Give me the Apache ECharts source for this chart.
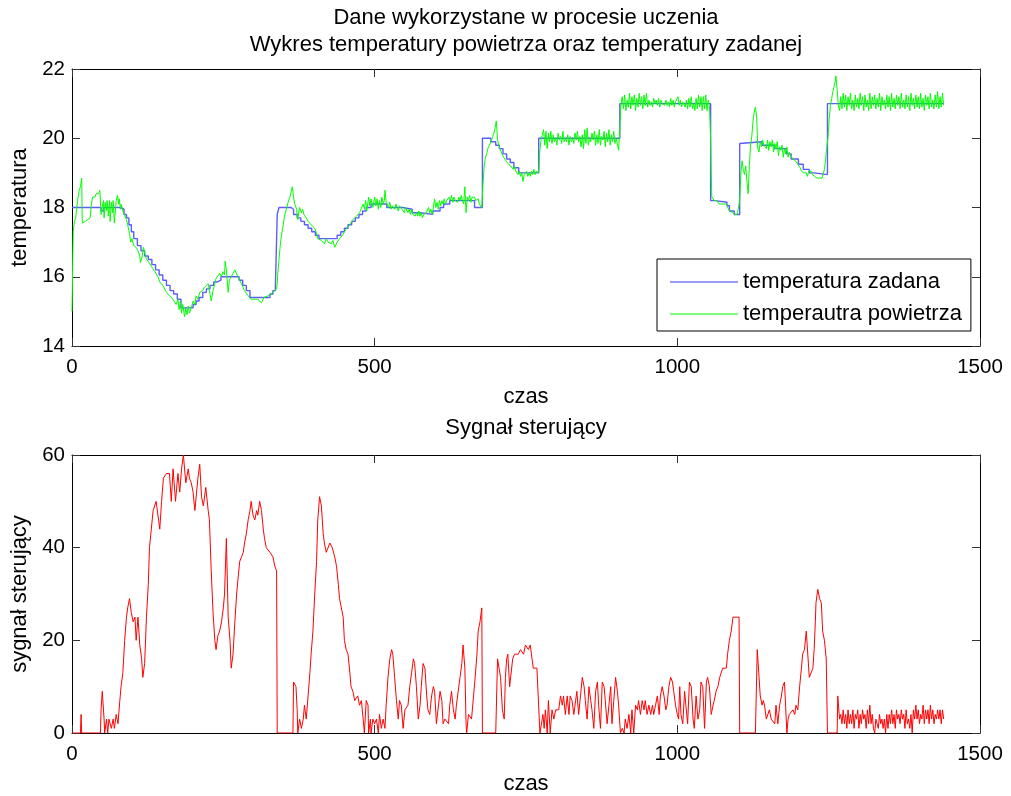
<!DOCTYPE html>
<html>
<head>
<meta charset="utf-8">
<script src="https://cdn.jsdelivr.net/npm/echarts@6/dist/echarts.min.js"></script>
<style>
  html, body { margin: 0; padding: 0; background: #ffffff; }
  #chart { width: 1011px; height: 796px; }
</style>
</head>
<body>
<div id="chart"></div>
<script>
// Setpoint temperature: [time, value], each value holds until the next time
const setpointData = [
  [0,18.0],[48,17.9],[52,18.0],[80,17.95],[86,17.8],[90,17.7],[94,17.5],[98,17.3],[102,17.1],[108,16.9],
  [114,16.75],[120,16.6],[126,16.5],[132,16.35],[138,16.2],[144,16.05],[150,15.9],[156,15.75],[162,15.6],
  [168,15.5],[174,15.35],[180,15.1],[200,15.2],[205,15.3],[210,15.4],[216,15.55],[222,15.65],[228,15.75],
  [234,15.85],[240,15.9],[246,16.0],[276,15.9],[282,15.75],[288,15.6],[294,15.4],[327,15.5],[332,15.6],
  [336,15.7],[339,17.8],[342,18.0],[362,17.95],[366,17.8],[372,17.7],[378,17.6],[384,17.5],[390,17.4],
  [396,17.3],[402,17.2],[408,17.1],[438,17.2],[444,17.3],[450,17.4],[456,17.5],[462,17.6],[468,17.7],
  [474,17.8],[480,17.9],[486,18.0],[494,18.1],[520,18.0],[546,17.95],[562,17.85],[575,17.8],[596,17.9],
  [608,18.0],[614,18.1],[624,18.2],[665,18.0],[678,20.0],[692,19.9],[700,19.8],[706,19.7],[712,19.55],
  [718,19.4],[724,19.3],[730,19.15],[738,19.0],[771,20.0],[905,21.0],[1055,18.2],[1062,18.15],[1082,18.05],
  [1086,17.9],[1094,17.8],[1103,19.85],[1106,19.9],[1140,19.8],[1160,19.7],[1180,19.55],[1188,19.4],
  [1200,19.25],[1208,19.1],[1218,19.0],[1226,18.95],[1248,21.0],[1440,21.0]
];

// Measured air temperature: [time, value]
const airTempData = [
  [0,15.0],[1,16.2],[2,17.3],[4,17.6],[6,17.7],[8,18.0],[10,18.3],[12,18.5],[14,18.6],[16,18.85],[17,17.55],
  [19,17.6],[22,17.6],[26,17.65],[30,17.7],[32,18.1],[34,18.3],[36,18.35],[38,18.3],[40,18.4],[42,18.35],
  [44,18.4],[46,18.5],[48,17.8],[50,17.85],[52,18.2],[53,17.7],[55,18.15],[57,17.9],[58,18.2],[60,17.75],
  [62,18.2],[63,17.6],[65,18.15],[67,17.85],[68,18.2],[70,17.55],[72,18.0],[73,18.2],[75,18.35],[77,18.1],
  [78,18.25],[80,17.95],[81,18.1],[84,17.9],[87,17.85],[90,17.65],[92,17.5],[95,17.25],[97,17.0],[99,17.1],
  [102,16.9],[104,16.95],[106,16.85],[109,16.75],[112,16.6],[113,16.4],[116,16.6],[118,16.85],[121,16.85],
  [123,16.5],[126,16.45],[128,16.4],[131,16.3],[134,16.3],[137,16.15],[139,16.1],[142,16.0],[145,15.85],
  [148,15.85],[150,15.75],[153,15.7],[156,15.55],[159,15.55],[161,15.45],[164,15.5],[167,15.35],[170,15.4],
  [172,15.2],[175,15.35],[177,15.05],[179,15.3],[181,14.95],[183,15.2],[186,14.85],[188,15.1],[190,14.9],
  [192,15.15],[194,14.95],[197,15.1],[200,15.3],[203,15.2],[205,15.45],[208,15.35],[211,15.55],[214,15.5],
  [216,15.6],[219,15.7],[222,15.7],[225,15.8],[227,15.6],[230,15.3],[233,15.6],[236,15.8],[238,15.95],
  [241,15.9],[244,16.1],[247,16.0],[249,16.15],[252,16.05],[253,16.45],[255,16.2],[258,15.55],[260,15.9],
  [263,16.0],[266,16.1],[269,16.2],[271,16.15],[274,16.0],[277,15.95],[280,15.8],[282,15.75],[285,15.6],
  [288,15.55],[291,15.45],[293,15.4],[296,15.35],[299,15.4],[302,15.35],[305,15.4],[307,15.35],[310,15.4],
  [313,15.25],[314,15.2],[317,15.4],[320,15.4],[324,15.45],[328,15.5],[332,15.55],[335,15.6],[338,15.65],
  [339,15.8],[340,16.1],[342,16.5],[344,16.9],[346,17.2],[349,17.5],[351,17.75],[354,17.95],[357,18.15],
  [360,18.3],[362,18.45],[364,18.6],[366,18.3],[368,18.1],[371,17.95],[373,17.65],[375,17.9],[376,18.0],
  [379,17.85],[381,17.95],[383,17.8],[385,17.85],[387,17.7],[390,17.6],[393,17.65],[395,17.5],[398,17.45],
  [401,17.4],[404,17.25],[406,17.1],[409,17.15],[412,17.05],[415,17.1],[417,16.95],[420,17.1],[423,17.0],
  [426,17.05],[428,16.95],[431,17.05],[434,16.85],[436,16.8],[438,17.0],[440,16.95],[442,17.1],[445,17.15],
  [447,17.2],[450,17.3],[453,17.35],[456,17.45],[459,17.5],[461,17.55],[464,17.65],[467,17.7],[470,17.75],
  [472,17.8],[475,17.85],[478,17.9],[481,18.1],[483,17.95],[485,18.2],[487,17.9],[490,18.3],[492,18.05],
  [494,18.25],[497,18.0],[500,18.3],[502,18.05],[504,18.25],[506,17.95],[508,18.2],[510,18.0],[512,18.3],
  [514,18.1],[516,18.2],[517,18.5],[519,18.15],[521,18.1],[523,18.0],[525,18.15],[527,17.95],[529,18.05],
  [531,18.0],[533,17.95],[535,18.1],[537,18.0],[539,17.9],[541,18.05],[543,18.0],[545,17.95],[547,18.0],
  [549,17.85],[551,18.0],[553,17.95],[555,17.85],[557,17.95],[559,17.8],[561,17.95],[563,17.8],[565,17.85],
  [567,17.75],[569,17.85],[571,17.75],[573,17.9],[575,17.75],[577,17.85],[579,17.7],[581,17.8],[583,17.75],
  [585,17.85],[587,17.8],[589,18.0],[591,17.85],[593,17.95],[595,17.8],[597,18.0],[599,18.25],[601,18.0],
  [603,18.15],[605,17.95],[607,18.2],[609,18.05],[611,18.2],[613,18.1],[615,18.25],[617,18.1],[619,18.2],
  [621,18.15],[623,18.3],[625,18.2],[627,18.35],[629,18.15],[631,18.3],[633,18.2],[635,18.25],[637,18.15],
  [639,18.3],[641,18.2],[643,18.35],[645,18.2],[647,18.1],[649,18.6],[651,17.85],[653,18.3],[655,18.2],
  [657,18.35],[659,18.15],[661,18.3],[663,18.25],[665,18.3],[667,18.2],[669,18.15],[671,18.25],[673,18.1],
  [675,18.05],[677,18.0],[679,18.7],[681,19.2],[683,19.45],[685,19.55],[687,19.7],[689,19.75],[691,19.85],
  [693,19.95],[695,20.05],[697,20.15],[699,20.3],[701,20.5],[703,19.95],[705,19.8],[707,19.75],[709,19.6],
  [711,19.55],[713,19.45],[715,19.5],[717,19.35],[719,19.4],[721,19.25],[723,19.3],[725,19.2],[727,19.25],
  [729,19.1],[731,19.2],[733,19.05],[735,19.1],[737,18.95],[739,19.05],[741,18.9],[743,19.0],[745,18.75],
  [747,18.95],[749,18.9],[751,19.05],[753,18.9],[755,19.0],[757,18.9],[759,19.05],[761,18.95],[763,19.1],
  [765,18.95],[767,19.05],[769,19.0],[771,19.0],[773,19.7],[775,19.95],[777,20.1],[779,20.25],[781,19.8],
  [783,20.2],[785,19.7],[787,20.15],[789,19.9],[791,20.2],[793,19.85],[795,20.1],[797,19.9],[799,20.0],
  [801,19.8],[803,20.15],[805,19.95],[807,20.05],[809,19.85],[811,20.2],[813,19.9],[815,20.0],[817,19.9],
  [819,20.1],[821,19.8],[823,20.05],[825,19.9],[827,20.0],[829,19.85],[831,20.15],[833,19.95],[835,20.2],
  [837,19.9],[839,20.05],[841,19.75],[843,20.1],[845,19.7],[847,20.25],[849,19.85],[851,20.3],[853,19.8],
  [855,20.0],[857,19.9],[859,20.15],[861,19.95],[863,20.2],[865,19.8],[867,20.1],[869,19.85],[871,20.25],
  [873,19.8],[875,20.05],[877,19.95],[879,20.2],[881,19.75],[883,20.15],[885,19.9],[887,20.25],[889,19.8],
  [891,20.1],[893,19.9],[895,20.2],[897,19.85],[899,20.0],[901,19.95],[903,19.65],[905,20.3],[907,21.0],
  [909,21.2],[911,20.85],[913,21.25],[915,20.8],[917,21.1],[919,20.9],[921,21.3],[923,20.85],[925,21.2],
  [927,20.95],[929,21.25],[931,20.8],[933,21.15],[935,20.9],[937,21.3],[939,20.95],[941,21.2],[943,20.85],
  [945,21.25],[947,20.95],[949,21.3],[951,20.9],[953,21.1],[955,20.95],[957,21.05],[959,20.9],[961,21.15],
  [963,21.0],[965,21.1],[967,20.95],[969,21.15],[971,20.9],[973,21.1],[975,21.0],[977,21.05],[979,20.95],
  [981,21.1],[983,20.95],[985,21.05],[987,20.9],[989,21.15],[991,20.95],[993,21.1],[995,20.9],[997,21.05],
  [999,21.0],[1001,21.2],[1003,20.95],[1005,21.1],[1007,20.9],[1009,21.05],[1011,21.0],[1013,20.9],
  [1015,21.1],[1017,20.85],[1019,21.15],[1021,20.9],[1023,21.2],[1025,20.85],[1027,21.0],[1029,20.8],
  [1031,21.15],[1033,20.85],[1035,21.25],[1037,20.9],[1039,21.2],[1041,20.8],[1043,21.2],[1045,20.85],
  [1047,21.25],[1049,20.8],[1051,21.1],[1053,20.95],[1055,20.0],[1056,19.0],[1057,18.3],[1059,18.25],
  [1061,18.2],[1063,18.15],[1065,18.2],[1067,18.15],[1069,18.1],[1071,18.15],[1073,18.1],[1075,18.15],
  [1077,18.1],[1079,18.05],[1081,18.1],[1083,18.0],[1085,17.95],[1087,17.9],[1089,17.95],[1091,17.85],
  [1093,17.8],[1095,17.8],[1097,17.8],[1099,17.8],[1101,17.85],[1103,18.2],[1105,19.0],[1107,19.35],
  [1109,19.1],[1111,18.95],[1113,19.2],[1115,18.75],[1117,18.4],[1119,19.2],[1121,19.8],[1123,20.05],
  [1125,20.5],[1127,20.75],[1129,20.9],[1131,20.6],[1133,19.7],[1135,19.6],[1137,19.9],[1139,19.75],
  [1141,19.95],[1143,19.8],[1145,19.85],[1147,19.7],[1149,19.95],[1151,19.65],[1153,19.9],[1155,19.75],
  [1157,19.95],[1159,19.6],[1161,19.85],[1163,19.7],[1165,19.9],[1167,19.5],[1169,19.75],[1171,19.65],
  [1173,19.8],[1175,19.45],[1177,19.7],[1179,19.55],[1181,19.75],[1183,19.45],[1185,19.6],[1187,19.5],
  [1189,19.55],[1191,19.4],[1193,19.45],[1195,19.35],[1197,19.3],[1199,19.25],[1201,19.2],[1203,19.15],
  [1205,19.05],[1207,19.1],[1209,19.0],[1211,19.05],[1213,19.0],[1215,18.9],[1217,19.05],[1219,19.1],
  [1221,19.05],[1223,18.95],[1225,19.0],[1227,18.9],[1229,18.9],[1231,18.85],[1233,18.85],[1235,18.85],
  [1237,18.85],[1239,18.85],[1241,18.9],[1243,19.1],[1245,19.4],[1247,19.75],[1249,20.05],[1251,20.6],
  [1253,20.95],[1255,21.15],[1257,21.35],[1259,21.5],[1261,21.65],[1262,21.8],[1264,21.4],[1266,20.95],
  [1268,20.8],[1270,21.2],[1272,20.85],[1274,21.3],[1276,20.9],[1278,21.25],[1280,20.8],[1282,21.2],
  [1284,20.95],[1286,21.3],[1288,20.85],[1290,21.1],[1292,20.8],[1294,21.25],[1296,20.9],[1298,21.15],
  [1300,20.85],[1302,21.3],[1304,20.95],[1306,21.2],[1308,20.8],[1310,21.25],[1312,20.9],[1314,21.1],
  [1316,20.8],[1318,21.3],[1320,20.85],[1322,21.2],[1324,20.95],[1326,21.25],[1328,20.85],[1330,21.15],
  [1332,20.9],[1334,21.3],[1336,20.8],[1338,21.2],[1340,20.95],[1342,21.1],[1344,20.85],[1346,21.25],
  [1348,20.9],[1350,21.2],[1352,20.8],[1354,21.3],[1356,20.9],[1358,21.15],[1360,20.85],[1362,21.25],
  [1364,20.95],[1366,21.2],[1368,20.85],[1370,21.3],[1372,20.9],[1374,21.1],[1376,20.85],[1378,21.25],
  [1380,20.9],[1382,21.2],[1384,20.8],[1386,21.3],[1388,20.95],[1390,21.15],[1392,20.85],[1394,21.25],
  [1396,20.9],[1398,21.2],[1400,20.85],[1402,21.3],[1404,20.9],[1406,21.15],[1408,20.8],[1410,21.25],
  [1412,20.95],[1414,21.2],[1416,20.85],[1418,21.3],[1420,20.9],[1422,21.1],[1424,20.85],[1426,21.25],
  [1428,20.9],[1430,21.35],[1432,20.85],[1434,21.2],[1436,20.9],[1438,21.3],[1440,20.95]
];

// Control signal: [time, value]
const controlData = [
  [0,0],[14,0],[15,4],[16,0],[47,0],[48,5],[50,9],[53,3],[54,0],[57,3],[59,0],[61,3],[65,1],[68,3],[70,1],
  [73,4],[76,2],[79,7],[81,10],[84,13],[87,20],[90,25],[92,27],[95,29],[98,26],[101,24],[104,25],[106,20],
  [109,25],[112,19],[115,16],[117,12],[120,15],[123,25],[126,32],[128,40],[131,44],[134,48],[139,50],
  [145,44],[148,50],[151,55],[156,56],[161,56],[164,50],[167,57],[171,50],[175,56],[178,52],[181,57],
  [184,60],[188,54],[192,57],[194,55],[197,54],[200,52],[203,48],[205,48],[208,55],[211,58],[214,51],
  [217,49],[221,53],[225,48],[227,46],[230,35],[233,26],[236,20],[238,18],[241,21],[244,22],[247,24],
  [250,27],[252,30],[255,42],[258,25],[261,20],[263,14],[266,17],[269,24],[272,30],[274,33],[277,37],
  [280,38],[283,39],[285,41],[288,43],[291,46],[294,48],[296,50],[299,47],[302,46],[305,48],[307,47],
  [310,50],[313,48],[316,44],[318,42],[321,40],[324,40],[327,39],[332,38],[335,36],[338,35],[339,0],
  [365,0],[366,11],[370,10],[372,5],[373,0],[376,3],[379,1],[382,3],[384,6],[387,3],[390,8],[393,13],
  [395,17],[398,22],[401,30],[404,37],[406,46],[409,51],[412,49],[415,43],[417,41],[420,39],[426,41],
  [430,40],[434,38],[437,36],[440,32],[442,29],[445,27],[448,25],[450,20],[453,18],[456,17],[459,13],
  [461,10],[464,9],[467,7],[470,7],[472,8],[475,6],[478,7],[481,3],[483,0],[486,7],[489,6],[490,0],
  [493,3],[494,0],[497,3],[500,2],[503,3],[506,0],[508,4],[511,1],[514,3],[517,1],[519,6],[522,12],
  [525,16],[528,18],[530,17],[533,12],[536,7],[539,3],[541,7],[544,6],[547,1],[550,5],[553,5],[555,6],
  [558,10],[561,13],[564,16],[566,15],[569,10],[572,3],[575,6],[577,10],[580,15],[583,14],[586,8],[588,5],
  [591,4],[594,8],[597,10],[599,9],[602,2],[605,2],[608,9],[611,7],[613,2],[616,3],[619,3],[622,2],[624,6],
  [627,9],[630,5],[633,3],[635,6],[638,6],[641,12],[644,15],[646,19],[649,14],[651,2],[652,0],[655,4],
  [658,4],[660,3],[663,3],[666,12],[669,17],[671,22],[674,24],[677,27],[678,0],[700,0],[703,16],[706,16],
  [708,12],[711,5],[714,3],[716,12],[718,16],[720,17],[723,10],[725,10],[728,16],[731,17],[734,17],
  [737,17],[739,17],[741,18],[743,18],[746,17],[749,19],[751,19],[754,18],[757,19],[760,16],[762,14],
  [765,14],[768,14],[771,14],[773,0],[776,0],[778,4],[780,1],[782,5],[785,0],[787,7],[790,0],[793,5],
  [796,3],[799,5],[801,5],[804,5],[807,8],[810,6],[812,8],[815,4],[818,8],[821,4],[823,8],[826,7],[829,4],
  [832,7],[834,9],[837,4],[840,8],[843,12],[846,10],[848,7],[851,3],[854,10],[857,7],[859,5],[862,1],
  [865,9],[868,11],[870,6],[873,1],[876,11],[879,10],[881,7],[884,2],[887,6],[890,10],[892,2],[895,7],
  [898,12],[901,9],[903,6],[906,0],[907,0],[909,1],[912,0],[914,3],[917,1],[920,4],[923,0],[925,5],
  [928,0],[931,6],[934,5],[936,7],[939,4],[942,7],[945,5],[947,7],[950,4],[953,6],[956,4],[959,6],[961,4],
  [964,6],[967,8],[970,4],[972,8],[975,10],[978,8],[981,5],[983,6],[986,10],[989,12],[992,11],[994,9],
  [997,6],[1000,4],[1002,3],[1004,10],[1006,4],[1009,2],[1012,9],[1015,9],[1017,2],[1020,11],[1023,10],
  [1026,3],[1028,1],[1031,8],[1034,3],[1037,5],[1039,11],[1042,10],[1045,1],[1048,11],[1050,12],[1053,10],
  [1056,4],[1059,6],[1061,7],[1064,9],[1067,10],[1070,12],[1072,12],[1075,14],[1078,14],[1081,14],
  [1083,17],[1086,20],[1089,22],[1092,25],[1095,25],[1097,25],[1100,25],[1102,25],[1103,0],[1129,0],
  [1132,18],[1135,12],[1137,8],[1140,6],[1142,7],[1144,6],[1147,3],[1150,3],[1152,5],[1155,3],[1158,3],
  [1161,2],[1163,6],[1166,2],[1169,6],[1172,8],[1174,10],[1177,11],[1180,11],[1181,0],[1183,3],[1185,4],
  [1188,4],[1191,5],[1194,4],[1196,6],[1199,5],[1202,10],[1205,14],[1207,17],[1210,18],[1213,22],
  [1216,16],[1218,12],[1221,12],[1224,14],[1226,18],[1228,24],[1229,28],[1232,31],[1235,29],[1238,28],
  [1240,22],[1243,20],[1246,16],[1248,0],[1264,0],[1265,8],[1268,3],[1270,4],[1272,2],[1274,5],[1276,2],
  [1278,4],[1280,1],[1282,5],[1284,2],[1286,4],[1288,2],[1290,5],[1292,1],[1294,4],[1296,3],[1298,5],
  [1300,1],[1302,4],[1304,2],[1306,5],[1308,3],[1310,4],[1312,1],[1314,5],[1316,2],[1318,6],[1320,2],
  [1322,4],[1324,1],[1326,0],[1328,3],[1330,3],[1332,1],[1334,4],[1336,2],[1338,3],[1340,1],[1342,3],
  [1344,0],[1346,4],[1348,1],[1350,4],[1352,2],[1354,5],[1356,2],[1358,4],[1360,1],[1362,5],[1364,3],
  [1366,4],[1368,2],[1370,5],[1372,3],[1374,4],[1376,1],[1378,5],[1380,2],[1382,3],[1384,1],[1386,4],
  [1388,0],[1390,5],[1392,3],[1394,6],[1396,3],[1398,5],[1400,2],[1402,4],[1404,3],[1406,6],[1408,2],
  [1410,5],[1412,3],[1414,5],[1416,2],[1418,6],[1420,3],[1422,5],[1424,2],[1426,4],[1428,3],[1430,5],
  [1432,3],[1434,5],[1436,2],[1438,5],[1440,3]
];

const FONT = '"Liberation Sans", Arial, Helvetica, sans-serif';
const textBase = { fontFamily: FONT, fontSize: 22, color: '#000', fontWeight: 'normal' };
const tickText = { fontFamily: FONT, fontSize: 20.5, color: '#000' };
const plainNumber = v => String(v);

// Box-style axis: line plus inward ticks; labels only on the main side
function boxAxis(extra) {
  return Object.assign({
    type: 'value',
    axisLine: { show: true, onZero: false, lineStyle: { color: '#000', width: 1 } },
    axisTick: { show: true, inside: true, length: 8, lineStyle: { color: '#333', width: 1 } },
    axisLabel: { show: false },
    splitLine: { show: false }
  }, extra);
}

const xMain = { min: 0, max: 1500, interval: 500 };
const xLabel = { show: true, margin: 11, formatter: plainNumber, ...tickText };
const yLabel = { show: true, margin: 7, formatter: plainNumber, ...tickText };

const option = {
  animation: false,
  backgroundColor: '#ffffff',
  title: [
    {
      text: 'Dane wykorzystane w procesie uczenia\nWykres temperatury powietrza oraz temperatury zadanej',
      left: 526, top: 4, textAlign: 'center', padding: 0,
      textStyle: { ...textBase, lineHeight: 27 }
    },
    {
      text: 'Sygnał sterujący',
      left: 526, top: 417, textAlign: 'center', padding: 0,
      textStyle: { ...textBase }
    }
  ],
  legend: {
    data: ['temperatura zadana', 'temperautra powietrza'],
    orient: 'vertical',
    left: 657, top: 259,
    padding: [12, 9, 6, 13],
    itemGap: 10, itemWidth: 68, itemHeight: 1.4,
    icon: 'rect',
    backgroundColor: '#fff', borderColor: '#000', borderWidth: 1,
    textStyle: { ...textBase }
  },
  grid: [
    { left: 72, top: 69, width: 908, height: 277, containLabel: false },
    { left: 72, top: 455, width: 908, height: 278, containLabel: false }
  ],
  xAxis: [
    boxAxis({ gridIndex: 0, position: 'bottom', ...xMain, axisLabel: xLabel,
      name: 'czas', nameLocation: 'middle', nameGap: 40, nameTextStyle: textBase }),
    boxAxis({ gridIndex: 0, position: 'top', ...xMain }),
    boxAxis({ gridIndex: 1, position: 'bottom', ...xMain, axisLabel: xLabel,
      name: 'czas', nameLocation: 'middle', nameGap: 40, nameTextStyle: textBase }),
    boxAxis({ gridIndex: 1, position: 'top', ...xMain })
  ],
  yAxis: [
    boxAxis({ gridIndex: 0, position: 'left', min: 14, max: 22, interval: 2, axisLabel: yLabel,
      name: 'temperatura', nameLocation: 'middle', nameGap: 31, nameTextStyle: textBase }),
    boxAxis({ gridIndex: 0, position: 'right', min: 14, max: 22, interval: 2 }),
    boxAxis({ gridIndex: 1, position: 'left', min: 0, max: 60, interval: 20, axisLabel: yLabel,
      name: 'sygnał sterujący', nameLocation: 'middle', nameGap: 31, nameTextStyle: textBase }),
    boxAxis({ gridIndex: 1, position: 'right', min: 0, max: 60, interval: 20 })
  ],
  series: [
    {
      name: 'temperatura zadana', type: 'line', step: 'end',
      xAxisIndex: 0, yAxisIndex: 0, data: setpointData,
      symbol: 'none', showSymbol: false,
      lineStyle: { color: '#5c5cff', width: 1.4 }, itemStyle: { color: '#7a7aff' }, z: 3
    },
    {
      name: 'temperautra powietrza', type: 'line',
      xAxisIndex: 0, yAxisIndex: 0, data: airTempData,
      symbol: 'none', showSymbol: false,
      lineStyle: { color: '#00ff00', width: 1 }, itemStyle: { color: '#50ff50' }, z: 4
    },
    {
      name: 'sygnał sterujący', type: 'line',
      xAxisIndex: 2, yAxisIndex: 2, data: controlData,
      symbol: 'none', showSymbol: false,
      lineStyle: { color: '#ff0000', width: 1 }, itemStyle: { color: '#ff0000' }, z: 3
    }
  ]
};

const chart = echarts.init(document.getElementById('chart'), null, { renderer: 'canvas' });
chart.setOption(option);
</script>
</body>
</html>
